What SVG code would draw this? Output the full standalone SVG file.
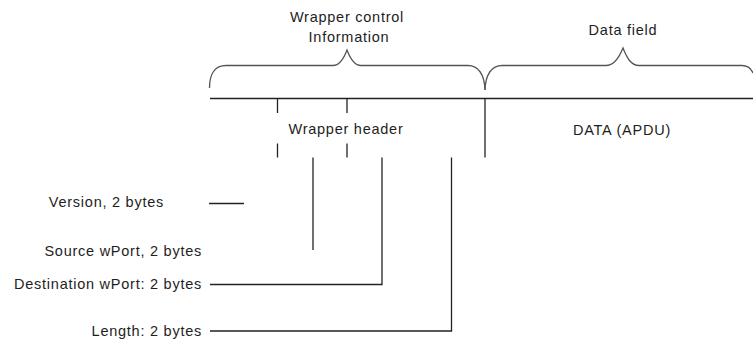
<svg xmlns="http://www.w3.org/2000/svg" width="753" height="340" viewBox="0 0 753 340">
  <style>
    .t { font-family: "Liberation Sans", Arial, sans-serif; font-size: 14.5px; fill: #1e1e1e; letter-spacing: 0.75px; }
    .m { text-anchor: middle; }
    .e { text-anchor: end; }
    .ln { fill: none; stroke: #222; stroke-width: 1.3; }
    .br { fill: none; stroke: #555; stroke-width: 1.3; }
  </style>
  <rect width="753" height="340" fill="#ffffff"/>

  <g id="wrapper-control-information">
    <path class="br" d="M209.5,88 C209.5,74 215,65.5 226,65.5 L333,65.5 C340,65.5 344,58 347,50 C350,58 354,65.5 361,65.5 L468,65.5 C478,65.5 484.5,74 485,90"/>
    <text class="t m" x="347" y="21.5">Wrapper control</text>
    <text class="t m" x="349" y="42">Information</text>
  </g>

  <g id="data-field">
    <path class="br" d="M485,90 C485.5,74 492,65.5 502,65.5 L606,65.5 C614,65.5 619,58 623,48 C627,58 631,65.5 639,65.5 L742,65.5 C748,65.5 751,68 753,73"/>
    <text class="t m" x="623" y="35">Data field</text>
  </g>

  <g id="frame">
    <path class="ln" d="M210,98.5 H753"/>
    <path class="ln" d="M485,98.5 V157.5"/>
  </g>

  <g id="wrapper-header">
    <path class="ln" d="M277.5,98.5 V113 M277.5,143.5 V157.5 M347,98.5 V113 M347,143.5 V157.5"/>
    <text class="t m" x="346" y="134">Wrapper header</text>
  </g>

  <g id="data-apdu">
    <text class="t m" x="622" y="134.5">DATA (APDU)</text>
  </g>

  <g id="version">
    <text class="t e" x="164" y="207">Version, 2 bytes</text>
  </g>
  <g id="source-wport">
    <text class="t e" x="202" y="256">Source wPort, 2 bytes</text>
  </g>
  <g id="destination-wport">
    <text class="t e" x="202" y="289">Destination wPort: 2 bytes</text>
  </g>
  <g id="length">
    <text class="t e" x="202" y="335.5">Length: 2 bytes</text>
  </g>

  <g id="connectors">
    <path class="ln" d="M209,203.5 H244"/>
    <path class="ln" d="M313,157.5 V250"/>
    <path class="ln" d="M382,157.5 V284.5 H210"/>
    <path class="ln" d="M451.5,157.5 V331 H210"/>
  </g>
</svg>
